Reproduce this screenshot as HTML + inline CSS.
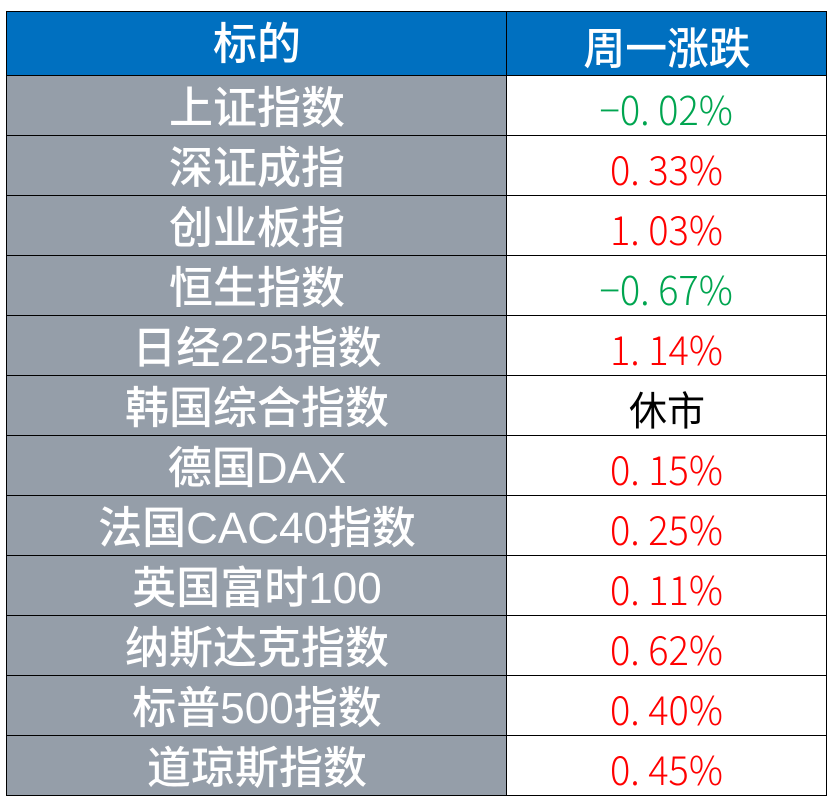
<!DOCTYPE html>
<html><head><meta charset="utf-8"><style>
body{margin:0;width:830px;height:808px;background:#fff;overflow:hidden;position:relative}
.c{position:absolute;box-sizing:border-box;border:1px solid #000;text-align:center;font-size:44px;font-family:"Liberation Sans","Noto Sans CJK SC",sans-serif;overflow:hidden}
.l{left:6px;width:502px;background:#959ea9;color:#fff;font-weight:500}
.r{left:506px;width:321px;background:#fff;color:#f00;font-family:"Noto Sans CJK SC",sans-serif;font-weight:300;font-size:40px}
.h{background:#0070c0!important;color:#fff!important;font-weight:500!important;font-size:44px!important}
.g{color:#00a550!important}
.k{color:#000!important;font-weight:400!important}
.r span{display:inline-block;transform:scaleX(0.95)}
</style></head><body>
<div class="c l h" style="top:11px;height:65px;line-height:66px"><span>标的</span></div>
<div class="c r h" style="top:11px;height:65px;line-height:66px"><span>周一涨跌</span></div>
<div id="rows"></div>
<script>
var d=[["上证指数","−0. 02%","g"],["深证成指","0. 33%",""],["创业板指","1. 03%",""],["恒生指数","−0. 67%","g"],["日经225指数","1. 14%",""],["韩国综合指数","休市","k"],["德国DAX","0. 15%",""],["法国CAC40指数","0. 25%",""],["英国富时100","0. 11%",""],["纳斯达克指数","0. 62%",""],["标普500指数","0. 40%",""],["道琼斯指数","0. 45%",""]];
var h="";
d.forEach(function(r,i){var t=75+i*60;
h+='<div class="c l" style="top:'+t+'px;height:61px;line-height:66px"><span>'+r[0]+'</span></div>';
h+='<div class="c r '+r[2]+'" style="top:'+t+'px;height:61px;line-height:64px"><span>'+r[1]+'</span></div>';});
document.getElementById("rows").innerHTML=h;
</script>
</body></html>
